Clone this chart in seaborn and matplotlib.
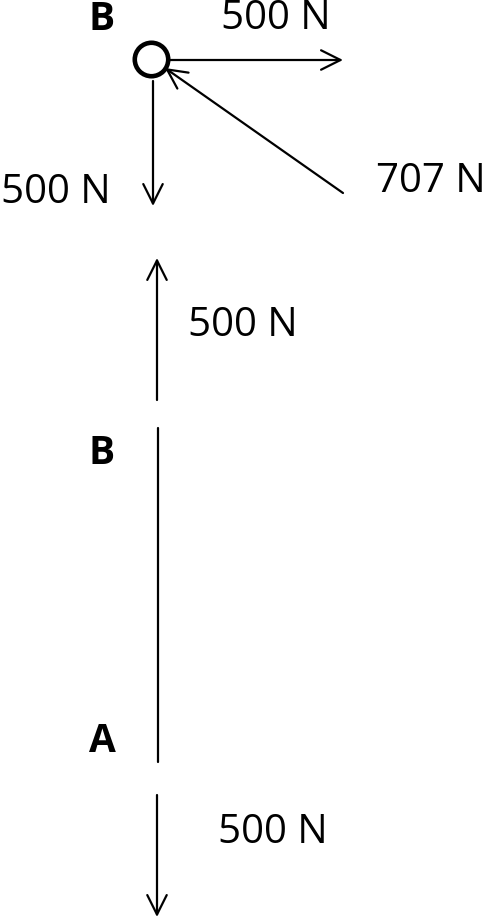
import matplotlib
matplotlib.use("Agg")
import matplotlib.pyplot as plt
import seaborn as sns
import pandas as pd

# free-body diagram, coordinates in picture pixels (y grows downward)
arrow_names = ["top_right", "top_diag", "top_down", "mid_up", "bottom_down"]
arrow_x0 = [168, 343, 153, 157, 157]
arrow_y0 = [60, 193, 81, 400, 795]
arrow_x1 = [343, 165, 153, 157, 157]
arrow_y1 = [60, 68, 206, 258, 917]

member_x = [158, 158]
member_y = [428, 762]

joint_x = [151]
joint_y = [59]

force_labels = ["500 N", "707 N", "500 N", "500 N", "500 N"]
force_lx = [276, 431, 56, 243, 273]
force_ly = [19, 182, 193, 326, 833]

point_labels = ["B", "B", "A"]
point_lx = [102, 102, 102]
point_ly = [20, 454, 742]

sns.set_theme(style="white")
plt.rcParams['font.family'] = ['Open Sans', 'DejaVu Sans']

fig = plt.figure(figsize=(4.87, 9.23), dpi=100)
ax = fig.add_axes([0, 0, 1, 1])
ax.set_xlim(0, 487)
ax.set_ylim(923, 0)
ax.axis("off")

members = pd.DataFrame({"x": member_x, "y": member_y})
sns.lineplot(data=members, x="x", y="y", color="black", linewidth=1.6,
             sort=False, estimator=None, ax=ax)

for i in range(len(arrow_names)):
    ax.annotate("", xy=(arrow_x1[i], arrow_y1[i]), xytext=(arrow_x0[i], arrow_y0[i]),
                arrowprops=dict(arrowstyle="->,head_length=0.7,head_width=0.35",
                                color="black", lw=1.6, mutation_scale=20,
                                shrinkA=0, shrinkB=0))

sns.scatterplot(x=joint_x, y=joint_y, s=580, facecolor="white",
                edgecolor="black", linewidth=3.3, zorder=5, ax=ax)

for t, x, y in zip(force_labels, force_lx, force_ly):
    ax.text(x, y, t, fontsize=29, ha="center", va="center", color="black")

for t, x, y in zip(point_labels, point_lx, point_ly):
    ax.text(x, y, t, fontsize=28, fontweight="bold", ha="center", va="center", color="black")

fig.savefig("out.png", dpi=100)
